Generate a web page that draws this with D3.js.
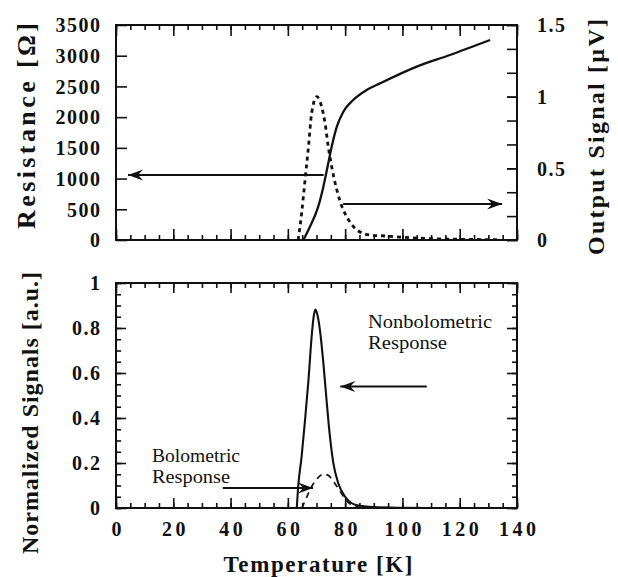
<!DOCTYPE html>
<html><head><meta charset="utf-8">
<script src="https://cdn.jsdelivr.net/npm/d3@7"></script>
<style>
body{margin:0;background:#fff}
svg{display:block}
text{font-family:"Liberation Serif","Times New Roman",serif;fill:#111}
</style>
</head><body>
<svg id="c" width="618" height="577"></svg>
<script>
// ---- data ----
const resT = [65.4,67.7,70.6,72.4,74.1,75.3,77.1,79.4,82.8,87.5,92.2,105,116.6,130.6];
const resR = [0,217,543,868,1248,1519,1845,2090,2279,2442,2550,2822,3012,3256];

const sigT = [63.6,64.8,66.0,67.2,68.3,70.1,71.8,73.0,74.1,75.3,77.1,78.9,81.2,84.1,88.7,93.9,99.2,109.6,123.6,134];
const sigV = [0,0.186,0.419,0.651,0.884,1.0,0.93,0.814,0.651,0.512,0.349,0.233,0.14,0.07,0.035,0.028,0.02,0.01,0.004,0.002];

const nonT = [63.1,63.6,64.8,66.0,67.2,68.3,69.0,69.6,70.3,71.2,72.4,73.6,74.7,75.9,77.6,80.0,84.1,90,100,110];
const nonV = [0,0.095,0.228,0.391,0.569,0.761,0.85,0.882,0.86,0.791,0.644,0.466,0.317,0.198,0.11,0.05,0.012,0.004,0.001,0];

const boloT = [64.9,66.3,68.1,70.2,72.3,74.1,75.8,78.2,80.3,82.4,85.2,88.7];
const boloV = [0,0.04,0.09,0.13,0.15,0.145,0.12,0.075,0.035,0.012,0.003,0];

const xTickLabels = [0,20,40,60,80,100,120,140];
const resTickLabels = [0,500,1000,1500,2000,2500,3000,3500];
const sigTickLabels = [0,0.5,1,1.5];
const normTickLabels = [0,0.2,0.4,0.6,0.8,1];

// ---- layout ----
const svg = d3.select('#c');
const L = 116, R = 517;
const topY0 = 25, topY1 = 240, botY0 = 283, botY1 = 508;
const x = d3.scaleLinear([0,140],[L,R]);
const yR = d3.scaleLinear([0,3500],[topY1,topY0]);
const yV = d3.scaleLinear([0,1.5],[topY1,topY0]);
const yN = d3.scaleLinear([0,1],[botY1,botY0]);

const xMinor = d3.range(0,141,5);
const sigMinor = d3.range(0,1.5001,0.5/3);
const normMinor = d3.range(0,1.0001,0.05);

function frame(y0,y1){
  svg.append('rect').attr('x',L).attr('y',y0).attr('width',R-L).attr('height',y1-y0)
    .attr('fill','none').attr('stroke','#111').attr('stroke-width',2);
}
function axisG(gen, tx, ty){
  const g = svg.append('g').attr('transform',`translate(${tx},${ty})`).call(gen);
  g.select('.domain').remove();
  g.selectAll('line').attr('stroke','#111').attr('stroke-width',1.6);
  return g;
}
const tickFontSize = 20;
function styleLabels(g, ls){
  g.selectAll('text').attr('font-size',tickFontSize).attr('font-weight','bold')
    .attr('letter-spacing',ls).attr('fill','#111');
}
const labelRight = 100; // right edge of left-axis tick labels

// ---- top panel ----
frame(topY0, topY1);
axisG(d3.axisBottom(x).tickValues(xTickLabels).tickSize(-11).tickFormat(''), 0, topY1);
axisG(d3.axisBottom(x).tickValues(xMinor).tickSize(-5).tickFormat(''), 0, topY1);
axisG(d3.axisTop(x).tickValues(xTickLabels).tickSize(-11).tickFormat(''), 0, topY0);
axisG(d3.axisTop(x).tickValues(xMinor).tickSize(-5).tickFormat(''), 0, topY0);
{
  const g = axisG(d3.axisLeft(yR).tickValues(resTickLabels).tickSize(-11).tickFormat(d3.format('d')), L, 0);
  styleLabels(g, 1.5);
  g.selectAll('text').attr('x', labelRight - L + 1.5).attr('dy','0.34em');
}
axisG(d3.axisRight(yV).tickValues(sigMinor).tickSize(-10).tickFormat(''), R, 0);
{
  const g = axisG(d3.axisRight(yV).tickValues(sigTickLabels).tickSize(-10)
    .tickFormat(d => d === 0 ? '0' : (d === 1 ? '1' : d3.format('.1f')(d))), R, 0);
  styleLabels(g, 1.5);
  g.selectAll('text').attr('x', 20).attr('dy','0.34em');
}

const lineRes = d3.line().x((d,i)=>x(resT[i])).y(d=>yR(d)).curve(d3.curveMonotoneX);
svg.append('path').attr('d', lineRes(resR)).attr('fill','none').attr('stroke','#111').attr('stroke-width',2.3);
const lineSig = d3.line().x((d,i)=>x(sigT[i])).y(d=>yV(d)).curve(d3.curveMonotoneX);
svg.append('path').attr('d', lineSig(sigV)).attr('fill','none').attr('stroke','#111')
  .attr('stroke-width',2.8).attr('stroke-dasharray','4,4');

const defs = svg.append('defs');
defs.append('marker').attr('id','ah').attr('viewBox','-16 -7 18 14')
  .attr('refX',0).attr('refY',0).attr('markerWidth',18).attr('markerHeight',14)
  .attr('markerUnits','userSpaceOnUse').attr('orient','auto')
  .append('path').attr('d','M0,0 L-15,-5.5 L-10,0 L-15,5.5 Z').attr('fill','#111');

function arrow(x1,y1,x2,y2){
  svg.append('line').attr('x1',x1).attr('y1',y1).attr('x2',x2).attr('y2',y2)
    .attr('stroke','#111').attr('stroke-width',1.8).attr('marker-end','url(#ah)');
}
arrow(x(72.5), yR(1058), x(4.2), yR(1058));
arrow(x(79.3), yV(0.251), x(134.8), yV(0.251));

function title(tx, ty, rot, len, s, fs){
  svg.append('text').attr('transform',`translate(${tx},${ty}) rotate(${rot})`)
    .attr('text-anchor','middle').attr('font-size',fs).attr('font-weight','bold')
    .attr('textLength',len).attr('lengthAdjust','spacing').text(s);
}
title(35, 126, -90, 206, 'Resistance [Ω]', 26);
title(604, 137, -90, 236, 'Output Signal [µV]', 24);

// ---- bottom panel ----
frame(botY0, botY1);
axisG(d3.axisBottom(x).tickValues(xMinor).tickSize(-5).tickFormat(''), 0, botY1);
{
  const g = axisG(d3.axisBottom(x).tickValues(xTickLabels).tickSize(-10).tickPadding(14).tickFormat(d3.format('d')), 0, botY1);
  styleLabels(g, 3.5);
  g.selectAll('text').attr('dx', 1.75);
}
axisG(d3.axisTop(x).tickValues(xTickLabels).tickSize(-10).tickFormat(''), 0, botY0);
axisG(d3.axisTop(x).tickValues(xMinor).tickSize(-5).tickFormat(''), 0, botY0);
axisG(d3.axisLeft(yN).tickValues(normMinor).tickSize(-5).tickFormat(''), L, 0);
{
  const g = axisG(d3.axisLeft(yN).tickValues(normTickLabels).tickSize(-10)
    .tickFormat(d => (d === 0 || d === 1) ? String(d) : d3.format('.1f')(d)), L, 0);
  styleLabels(g, 1.5);
  g.selectAll('text').attr('x', labelRight - L + 1.5).attr('dy','0.34em');
}
axisG(d3.axisRight(yN).tickValues(normMinor).tickSize(-5).tickFormat(''), R, 0);
axisG(d3.axisRight(yN).tickValues(normTickLabels).tickSize(-10).tickFormat(''), R, 0);

const lineNon = d3.line().x((d,i)=>x(nonT[i])).y(d=>yN(d)).curve(d3.curveMonotoneX);
svg.append('path').attr('d', lineNon(nonV)).attr('fill','none').attr('stroke','#111').attr('stroke-width',2.1);
const lineBolo = d3.line().x((d,i)=>x(boloT[i])).y(d=>yN(d)).curve(d3.curveMonotoneX);
svg.append('path').attr('d', lineBolo(boloV)).attr('fill','none').attr('stroke','#111')
  .attr('stroke-width',1.7).attr('stroke-dasharray','6,5');

arrow(x(37.3), yN(0.089), x(68.8), yN(0.089));
arrow(x(108.5), yN(0.54), x(78.3), yN(0.54));

function note(tx, ty, lines, len){
  lines.forEach((s,i)=>{
    svg.append('text').attr('x',tx).attr('y',ty + i*20.5).attr('font-size',19.5)
      .attr('textLength',len[i]).attr('lengthAdjust','spacingAndGlyphs').text(s);
  });
}
note(152, 462, ['Bolometric','Response'], [88,78]);
note(368, 328, ['Nonbolometric','Response'], [124,79]);

title(38, 413, -90, 282, 'Normalized Signals [a.u.]', 24);
title(318, 572, 0, 189, 'Temperature [K]', 23);
</script>
</body></html>
